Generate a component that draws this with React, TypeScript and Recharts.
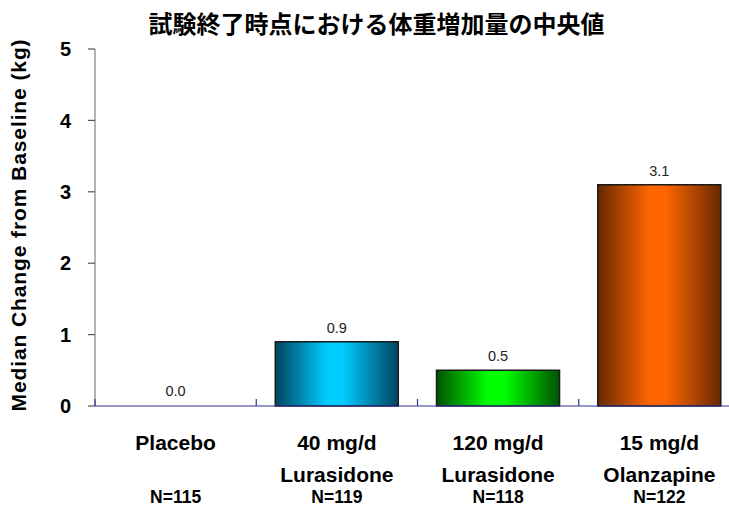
import { Bar, BarChart, Cell, LabelList, XAxis, YAxis } from "recharts";

const doseLabels = ["Placebo", "40 mg/d", "120 mg/d", "15 mg/d"];
const drugLabels = ["", "Lurasidone", "Lurasidone", "Olanzapine"];
const sampleSizes = ["N=115", "N=119", "N=118", "N=122"];
const medianGain = [0.0, 0.9, 0.5, 3.1];
const yTicks = [0, 1, 2, 3, 4, 5];

// cylinder shading: dark rim, bright middle
const rimColors = ["#555555", "#00445f", "#005200", "#662800"];
const coreColors = ["#cccccc", "#00ccff", "#00ff00", "#ff6600"];

const data = doseLabels.map((dose, i) => ({
  dose,
  drug: drugLabels[i],
  n: sampleSizes[i],
  gain: medianGain[i],
}));

const FONT = '"Liberation Sans", Arial, Helvetica, sans-serif';
const AXIS_BLUE = "#333399";

// group label (dose / drug / N) plus small separator ticks at the group edges
function GroupTick(props: any) {
  const { x, y, payload, index, width, visibleTicksCount } = props;
  const row = data[index] ?? data.find((d) => d.dose === payload.value);
  const band = width / visibleTicksCount;
  const left = x - band / 2;
  const last = index === visibleTicksCount - 1;
  return (
    <g>
      <line x1={left} y1={y - 7} x2={left} y2={y} stroke={AXIS_BLUE} strokeWidth={1.2} />
      {last && <line x1={left + band} y1={y - 7} x2={left + band} y2={y} stroke={AXIS_BLUE} strokeWidth={1.2} />}
      <g fontFamily={FONT} fontWeight="bold" fill="#000" textAnchor="middle">
        <text x={x} y={y + 44} fontSize={21}>
          {row.dose}
        </text>
        {row.drug && (
          <text x={x} y={y + 76} fontSize={21}>
            {row.drug}
          </text>
        )}
        <text x={x} y={y + 97} fontSize={17.5}>
          {row.n}
        </text>
      </g>
    </g>
  );
}

function YTitle() {
  return (
    <text
      x={26}
      y={225}
      transform="rotate(-90, 26, 225)"
      textAnchor="middle"
      fontFamily={FONT}
      fontWeight="bold"
      fontSize={21}
      letterSpacing={0.9}
      fill="#000"
    >
      Median Change from Baseline (kg)
    </text>
  );
}

export default function App() {
  return (
    <div style={{ position: "relative", width: 729, height: 508, overflow: "hidden", background: "#fff" }}>
      <style>{`body{margin:0}`}</style>
      <div
        style={{
          position: "absolute",
          left: 0,
          top: 0,
          width: 753,
          height: 46,
          lineHeight: "46px",
          textAlign: "center",
          fontFamily: '"Noto Sans CJK JP", sans-serif',
          fontWeight: 700,
          fontSize: 24,
          color: "#000",
          zIndex: 1,
        }}
      >
        試験終了時点における体重増加量の中央値
      </div>
      <BarChart
        width={760}
        height={508}
        data={data}
        margin={{ top: 49, right: 20, bottom: 0, left: 0 }}
        barCategoryGap="11.8%"
      >
        <defs>
          {rimColors.map((rim, i) => (
            <linearGradient key={i} id={`cyl-${i}`} x1="0" y1="0" x2="1" y2="0">
              <stop offset="0%" stopColor={rim} />
              <stop offset="42%" stopColor={coreColors[i]} />
              <stop offset="55%" stopColor={coreColors[i]} />
              <stop offset="100%" stopColor={rim} />
            </linearGradient>
          ))}
        </defs>
        <YAxis
          width={95}
          domain={[0, 5]}
          ticks={yTicks}
          interval={0}
          tickSize={7}
          tickMargin={17}
          axisLine={{ stroke: "#808080", strokeWidth: 1.2 }}
          tickLine={{ stroke: "#555555", strokeWidth: 1.2 }}
          tick={{ fill: "#000", fontSize: 20, fontWeight: "bold", fontFamily: FONT }}
          label={<YTitle />}
        />
        <XAxis
          dataKey="dose"
          height={102}
          axisLine={{ stroke: AXIS_BLUE, strokeWidth: 1.2 }}
          tickLine={false}
          tickSize={0}
          tickMargin={0}
          interval={0}
          tick={<GroupTick />}
        />
        {/* minPointSize keeps a (hidden) rect for the zero bar so its label still shows */}
        <Bar dataKey="gain" isAnimationActive={false} minPointSize={1}>
          {data.map((d, i) =>
            d.gain === 0 ? (
              <Cell key={d.dose} fill="none" stroke="none" />
            ) : (
              <Cell key={d.dose} fill={`url(#cyl-${i})`} stroke="#1a1a1a" strokeWidth={1.5} />
            )
          )}
          <LabelList
            dataKey="gain"
            position="top"
            offset={9}
            formatter={(v: any) => Number(v).toFixed(1)}
            style={{ fill: "#222", fontSize: 14.5, fontFamily: FONT, fontWeight: "normal" }}
          />
        </Bar>
      </BarChart>
    </div>
  );
}
